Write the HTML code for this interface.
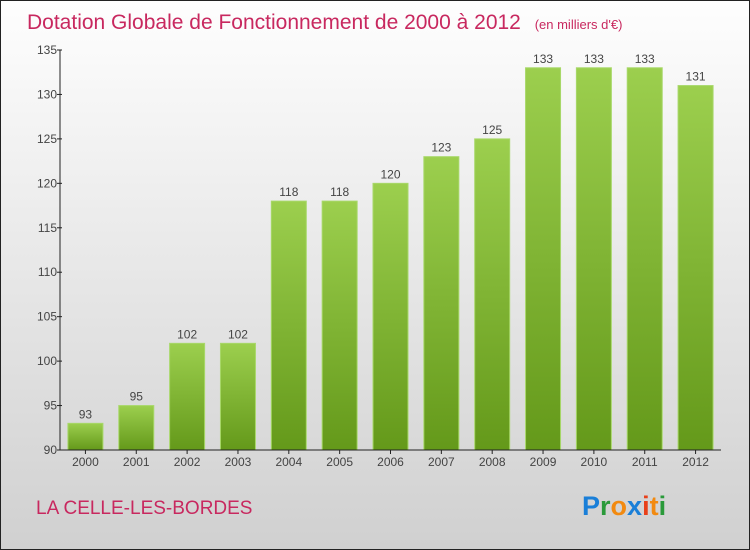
<!DOCTYPE html>
<html><head><meta charset="utf-8"><style>
body{margin:0}
svg{display:block;font-family:"Liberation Sans",sans-serif}
</style></head><body>
<svg id="c" width="750" height="550">
<defs>
<linearGradient id="bg" x1="0" y1="0" x2="0" y2="1"><stop offset="0" stop-color="#fefefe"/><stop offset="1" stop-color="#d0d0d0"/></linearGradient>
<linearGradient id="bar" x1="0" y1="0" x2="0" y2="1"><stop offset="0" stop-color="#9ccf4e"/><stop offset="1" stop-color="#64991a"/></linearGradient>
</defs>
<rect x="0.5" y="0.5" width="749" height="549" fill="url(#bg)" stroke="#222"/>
<text x="27" y="29" font-size="21" fill="#c8285f">Dotation Globale de Fonctionnement de 2000 à 2012 <tspan font-size="13" dx="8">(en milliers d'€)</tspan></text>
<text x="36" y="514" font-size="19" fill="#c8285f">LA CELLE-LES-BORDES</text>
<g font-size="27" font-weight="bold">
<text x="582" y="515"><tspan fill="#1a7fd8">P</tspan><tspan fill="#2a9a3a">r</tspan><tspan fill="#f28a10">o</tspan><tspan fill="#1a7fd8">x</tspan><tspan fill="#e8401a">i</tspan><tspan fill="#f28a10">t</tspan><tspan fill="#2a9a3a">i</tspan></text>
</g>
<g id="plot"></g>
</svg>
<script>
const categories=["2000","2001","2002","2003","2004","2005","2006","2007","2008","2009","2010","2011","2012"];
const values=[93,95,102,102,118,118,120,123,125,133,133,133,131];
const yTicks=[90,95,100,105,110,115,120,125,130,135];
const X0=60,X1=721,Y0=450,Y1=68.5,yMin=90,yMax=135;
const yTop=50;
function y(v){return Y0-(v-yMin)/(yMax-yMin)*(Y0-yTop);}
const bw=(X1-X0)/categories.length;
function x(i){return X0+bw*(i+0.5);}
const g=document.getElementById('plot');
const NS='http://www.w3.org/2000/svg';
function mk(t,a){const e=document.createElementNS(NS,t);for(const k in a)e.setAttribute(k,a[k]);g.appendChild(e);return e;}
values.forEach((v,i)=>{
 const r=mk('rect',{x:x(i)-17.5,y:y(v),width:35,height:Y0-y(v),fill:'url(#bar)',stroke:'#a8d86a','stroke-width':1});
 
 
 const t=mk('text',{x:x(i),y:y(v)-5,'text-anchor':'middle','font-size':12,fill:'#444'});
 t.textContent=v;
 
 
 const c=mk('text',{x:x(i),y:Y0+16,'text-anchor':'middle','font-size':12,fill:'#444'});
 c.textContent=categories[i];
 
 
 const tk=mk('line',{x1:x(i),x2:x(i),y1:Y0,y2:Y0+4,stroke:'#222'});
 
 
});
yTicks.forEach(v=>{
 const l=mk('line',{x1:X0-3,x2:X0+2,y1:y(v),y2:y(v),stroke:'#222'});
 
 
 const t=mk('text',{x:X0-3,y:y(v)+4,'text-anchor':'end','font-size':12,fill:'#444'});
 t.textContent=v;
 
 
});
const ya=mk('line',{x1:X0,x2:X0,y1:yTop,y2:Y0,stroke:'#222'});


const xa=mk('line',{x1:X0,x2:X1,y1:Y0,y2:Y0,stroke:'#222'});


</script>
</body></html>
